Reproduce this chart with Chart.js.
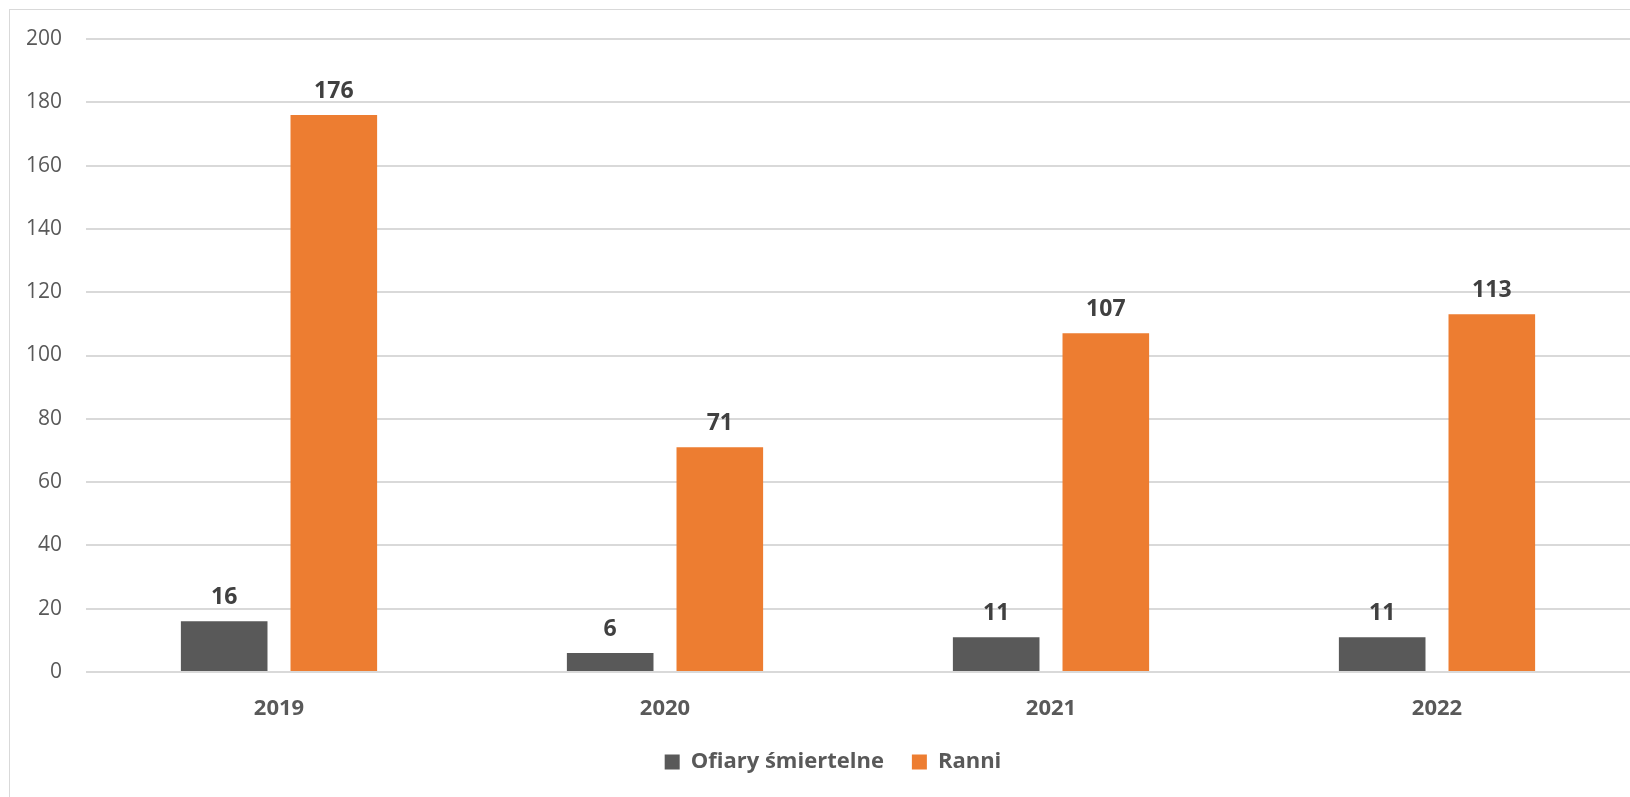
<!DOCTYPE html>
<html>
<head>
<meta charset="utf-8">
<script src="https://cdn.jsdelivr.net/npm/chart.js@4.4.1/dist/chart.umd.min.js"></script>
<style>
  html, body { margin: 0; padding: 0; background: #fff; overflow: hidden; }
  .frame {
    position: absolute; left: 9px; top: 9px;
    width: 1620px; height: 787px;
    border-left: 1px solid #d9d9d9; border-top: 1px solid #d9d9d9;
  }
</style>
</head>
<body>
<div class="frame"><canvas id="chart"></canvas></div>
<script>
const years = ['2019', '2020', '2021', '2022'];
const fatalities = [16, 6, 11, 11];
const injured = [176, 71, 107, 113];
const yTicks = [0, 20, 40, 60, 80, 100, 120, 140, 160, 180, 200];

const FONT = "'Open Sans', 'Liberation Sans', sans-serif";

// value labels above each bar
const barLabels = {
  id: 'barLabels',
  afterDatasetsDraw(chart) {
    const ctx = chart.ctx;
    ctx.save();
    ctx.font = 'bold 23px ' + FONT;
    ctx.fillStyle = '#404040';
    ctx.textAlign = 'center';
    ctx.textBaseline = 'bottom';
    chart.data.datasets.forEach((ds, i) => {
      chart.getDatasetMeta(i).data.forEach((bar, j) => {
        ctx.fillText(ds.data[j], bar.x, bar.y - 12);
      });
    });
    ctx.restore();
  }
};

// nudge the legend a little to the right, like the original
const legendShift = {
  id: 'legendShift',
  afterLayout(chart) {
    chart.legend.left += 13;
    chart.legend.right += 13;
  }
};

new Chart(document.getElementById('chart'), {
  type: 'bar',
  data: {
    labels: years,
    datasets: [
      { label: 'Ofiary śmiertelne', data: fatalities, backgroundColor: '#595959' },
      { label: 'Ranni', data: injured, backgroundColor: '#ED7D31' }
    ]
  },
  options: {
    responsive: true,
    maintainAspectRatio: false,
    animation: false,
    categoryPercentage: 0.568,
    barPercentage: 0.79,
    layout: { padding: { top: 0, right: 0, bottom: 14, left: 0 } },
    plugins: {
      tooltip: { enabled: false },
      legend: {
        position: 'bottom',
        labels: {
          boxWidth: 15, boxHeight: 15, padding: 28,
          color: '#595959',
          font: { family: FONT, size: 22, weight: 'bold' }
        }
      }
    },
    scales: {
      x: {
        grid: { display: false },
        border: { display: false },
        ticks: {
          color: '#595959', padding: 16,
          font: { family: FONT, size: 22, weight: 'bold' }
        },
        afterFit(s) { s.height = 51; }
      },
      y: {
        min: 0, max: 200,
        afterBuildTicks(s) { s.ticks = yTicks.map(v => ({ value: v })); },
        grid: { color: '#d9d9d9', lineWidth: 2, drawTicks: false },
        border: { display: false },
        ticks: {
          color: '#595959', padding: 24,
          font: { family: FONT, size: 21 }
        },
        afterFit(s) {
          s.width = 76;
          s.paddingTop = 29;
          s.paddingBottom = 0;
        }
      }
    }
  },
  plugins: [barLabels, legendShift]
});
</script>
</body>
</html>
